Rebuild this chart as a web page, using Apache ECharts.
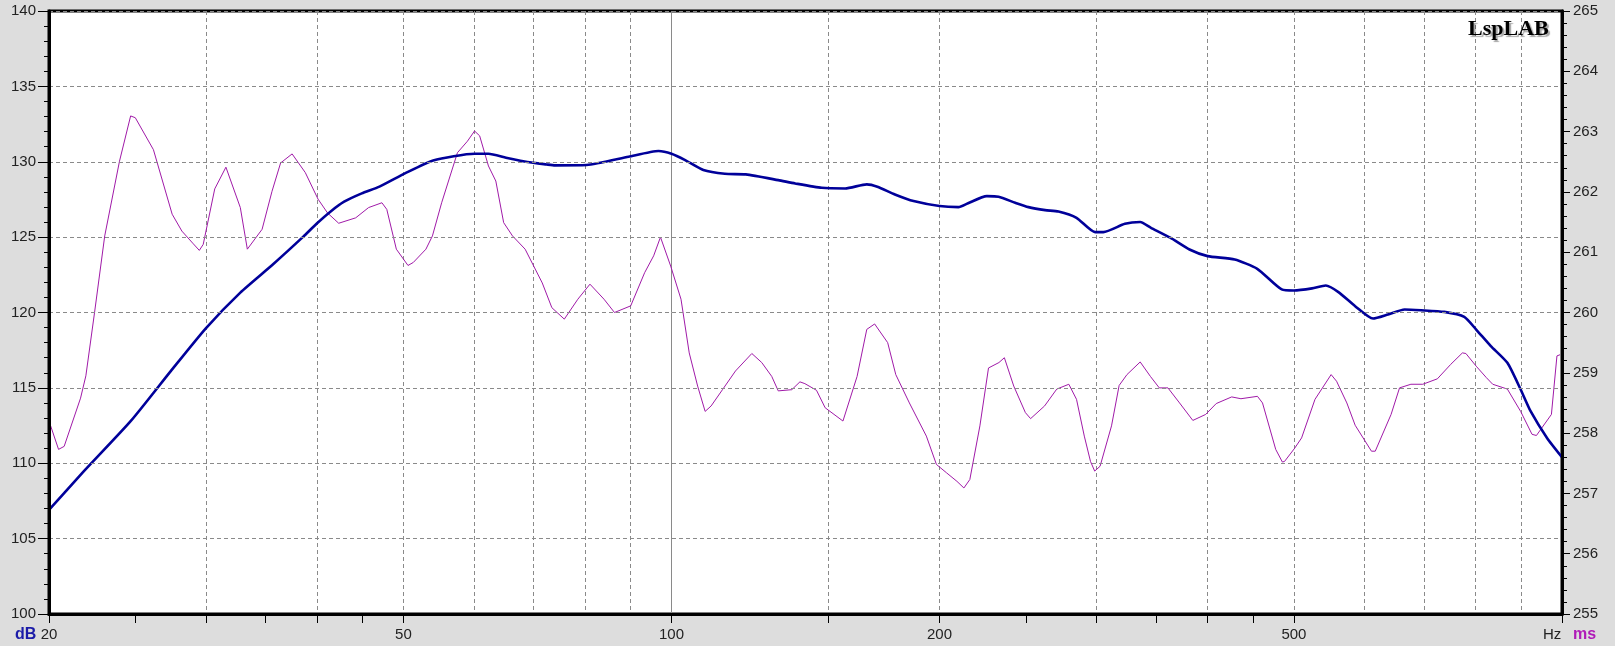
<!DOCTYPE html>
<html><head><meta charset="utf-8">
<script src="https://cdn.jsdelivr.net/npm/echarts@6/dist/echarts.min.js"></script>
<style>html,body{margin:0;padding:0;background:#dddddd}#c{width:1615px;height:646px}</style>
</head><body><div id="c"></div>
<script>
// Frequency response (dB, left axis)
const freqSpl = [20,21.8,24.7,27.4,30,32.8,35.7,38.6,40,41.4,42.9,44.9,47,50.2,54,60.1,62.3,65.2,68.9,72.4,74,80.3,89.5,96.7,100,103.6,108.6,114.8,121.2,131.8,137.7,147.5,156.7,165.7,170.3,178.2,187,200,210,215,226,233,243.2,251.7,262.8,272,285,299,305.5,323,336,345.5,363.2,381.7,400,429,454.8,484.5,500,524,543,561,585.8,613.5,637.7,665.7,694.7,737.6,776.7,801,832,868.3,898.6,922,962,1000];
const spl = [106.9,109.36,112.79,116.11,118.95,121.32,123.2,125.03,125.92,126.69,127.35,127.9,128.35,129.23,130.09,130.53,130.53,130.27,129.98,129.82,129.76,129.78,130.33,130.71,130.53,130.11,129.45,129.2,129.16,128.78,128.56,128.27,128.23,128.5,128.34,127.83,127.39,127.06,126.99,127.23,127.72,127.68,127.28,126.99,126.79,126.7,126.28,125.33,125.33,125.88,126.0,125.62,124.96,124.18,123.74,123.52,122.9,121.53,121.46,121.6,121.79,121.35,120.42,119.6,119.87,120.2,120.15,120.04,119.71,118.87,117.77,116.66,114.89,113.45,111.68,110.4];
// Group delay (ms, right axis)
const freqGd = [20,20.5,20.8,21.7,22,22.5,23.1,24,24.7,25,26.2,27.5,28.2,29,29.5,29.8,30.7,31.6,32.8,33.4,34.7,35.6,36.4,37.5,38.8,40.1,41.1,42.3,44.2,45.7,47.3,47.9,49.1,50.6,51.3,53,53.9,55.2,57.5,59,60.1,60.9,62.3,63.5,64.8,66.3,68.5,71.6,73.4,75.8,78.5,81,84,86.3,90,93.3,95.5,97.2,99.8,102.5,104.7,107,109.1,110.8,114.1,118,123.1,126.3,129.6,131.8,136.5,139.4,141.2,145.5,148.8,155.8,161.6,165.7,169.1,174.9,178.6,185,193.3,198.4,203.7,209.2,213,216.3,222,227,233.2,236.5,242.3,249.7,253.1,262.4,270.8,279.4,285,290.8,295.5,298.7,302.9,312,318.2,324.7,336,345,353,361,372,385,398,409,425.7,436,455,461,477,485.3,488,501,510,528,550.5,558.3,573.3,585.8,611,617,642.8,657,676.6,697.7,724.5,750,773,780,801,822.3,836,868.3,898.6,925.4,936,973,987,995];
const groupDelay = [258.20,257.73,257.78,258.58,258.95,260.0,261.27,262.51,263.26,263.23,262.70,261.63,261.35,261.15,261.03,261.13,262.05,262.41,261.74,261.05,261.38,262.01,262.48,262.63,262.32,261.88,261.65,261.48,261.57,261.74,261.82,261.71,261.05,260.78,260.83,261.05,261.27,261.82,262.65,262.84,263.01,262.93,262.43,262.18,261.49,261.27,261.05,260.49,260.08,259.89,260.22,260.47,260.22,260.0,260.11,260.66,260.94,261.25,260.77,260.22,259.33,258.78,258.36,258.45,258.72,259.03,259.32,259.17,258.94,258.70,258.72,258.85,258.82,258.71,258.42,258.20,258.94,259.72,259.81,259.50,258.97,258.50,257.95,257.48,257.34,257.20,257.09,257.23,258.12,259.08,259.17,259.25,258.78,258.34,258.24,258.45,258.73,258.81,258.56,257.95,257.53,257.37,257.45,258.12,258.79,258.97,259.18,258.94,258.75,258.75,258.50,258.21,258.31,258.49,258.60,258.57,258.61,258.50,257.73,257.52,257.53,257.75,257.92,258.56,258.97,258.86,258.50,258.13,257.70,257.70,258.31,258.75,258.81,258.81,258.90,259.14,259.33,259.32,259.11,258.92,258.81,258.73,258.36,257.98,257.96,258.31,259.28,259.30];
// Axis ticks / labels
const xLabelValues = [20,50,100,200,500];
const xTickValues = [20,25,30,35,40,45,50,100,150,200,250,300,350,400,450,500,1000];
const xGridValues = [30,40,50,60,70,80,90,150,200,300,400,500,600,700,800,900];
const xSolidValues = [100];
const dbRange = [100,140,5];
const msRange = [255,265,1];

const chart = echarts.init(document.getElementById('c'));
const baseX = {type:'log', logBase:10, min:20, max:1000, gridIndex:0};
const dash = {color:'#8a8a8a', width:1, type:[4,3]};
chart.setOption({
  backgroundColor:'#dddddd',
  animation:false,
  grid:{left:49, right:53, top:11, bottom:32, show:true, backgroundColor:'#ffffff', borderColor:'#000', borderWidth:3},
  xAxis:[
    Object.assign({}, baseX, {position:'bottom', z:5,
      axisLine:{show:true, lineStyle:{color:'#000', width:3}},
      axisTick:{show:true, customValues:xTickValues, length:9, lineStyle:{color:'#000', width:1}},
      axisLabel:{show:true, customValues:xLabelValues, margin:13, fontSize:15, color:'#222', fontFamily:'Liberation Sans, Arial, sans-serif'},
      splitLine:{show:false}, minorTick:{show:false}}),
    Object.assign({}, baseX, {position:'bottom',
      axisLine:{show:false}, axisTick:{show:false, customValues:xGridValues}, axisLabel:{show:false},
      splitLine:{show:true, lineStyle:dash}}),
    Object.assign({}, baseX, {position:'bottom',
      axisLine:{show:false}, axisTick:{show:false, customValues:xSolidValues}, axisLabel:{show:false},
      splitLine:{show:true, lineStyle:{color:'#8a8a8a', width:1, type:'solid'}}})
  ],
  yAxis:[
    {type:'value', min:dbRange[0], max:dbRange[1], interval:dbRange[2], position:'left', z:5,
      axisLine:{show:true, lineStyle:{color:'#000', width:3}},
      axisTick:{show:true, length:11, lineStyle:{color:'#000'}},
      minorTick:{show:true, splitNumber:5, length:5, lineStyle:{color:'#000'}},
      axisLabel:{margin:13, fontSize:15, color:'#222', fontFamily:'Liberation Sans, Arial, sans-serif'},
      splitLine:{show:true, lineStyle:dash}},
    {type:'value', min:msRange[0], max:msRange[1], interval:msRange[2], position:'right', z:5,
      axisLine:{show:true, lineStyle:{color:'#000', width:3}},
      axisTick:{show:true, length:8, lineStyle:{color:'#000'}},
      minorTick:{show:true, splitNumber:5, length:5, lineStyle:{color:'#000'}},
      axisLabel:{margin:11, fontSize:15, color:'#222', fontFamily:'Liberation Sans, Arial, sans-serif'},
      splitLine:{show:false}}
  ],
  series:[
    {type:'line', xAxisIndex:0, yAxisIndex:1, showSymbol:false, symbol:'none', silent:true,
      data:freqGd.map((f,i)=>[f, groupDelay[i]]),
      lineStyle:{color:'#a01aa8', width:1}, z:3},
    {type:'line', xAxisIndex:0, yAxisIndex:0, showSymbol:false, symbol:'none', silent:true, smooth:0.2,
      data:freqSpl.map((f,i)=>[f, spl[i]]),
      lineStyle:{color:'#00009a', width:2.6}, z:4}
  ],
  graphic:[
    {type:'text', left:15, top:627, style:{text:'dB', fontSize:16, fontWeight:'bold', fill:'#1b1ba8', fontFamily:'Liberation Sans, Arial, sans-serif'}},
    {type:'text', left:1543, top:627, style:{text:'Hz', fontSize:15, fill:'#222', fontFamily:'Liberation Sans, Arial, sans-serif'}},
    {type:'text', left:1573, top:627, style:{text:'ms', fontSize:16, fontWeight:'bold', fill:'#b01ab8', fontFamily:'Liberation Sans, Arial, sans-serif'}},
    {type:'text', left:1468, top:18, z:10, style:{text:'LspLAB', fontSize:22, fontWeight:'bold', fill:'#000', fontFamily:'Liberation Serif, Times New Roman, serif', textShadowColor:'rgba(0,0,0,0.35)', textShadowOffsetX:2, textShadowOffsetY:2, textShadowBlur:1}}
  ]
});
</script></body></html>
